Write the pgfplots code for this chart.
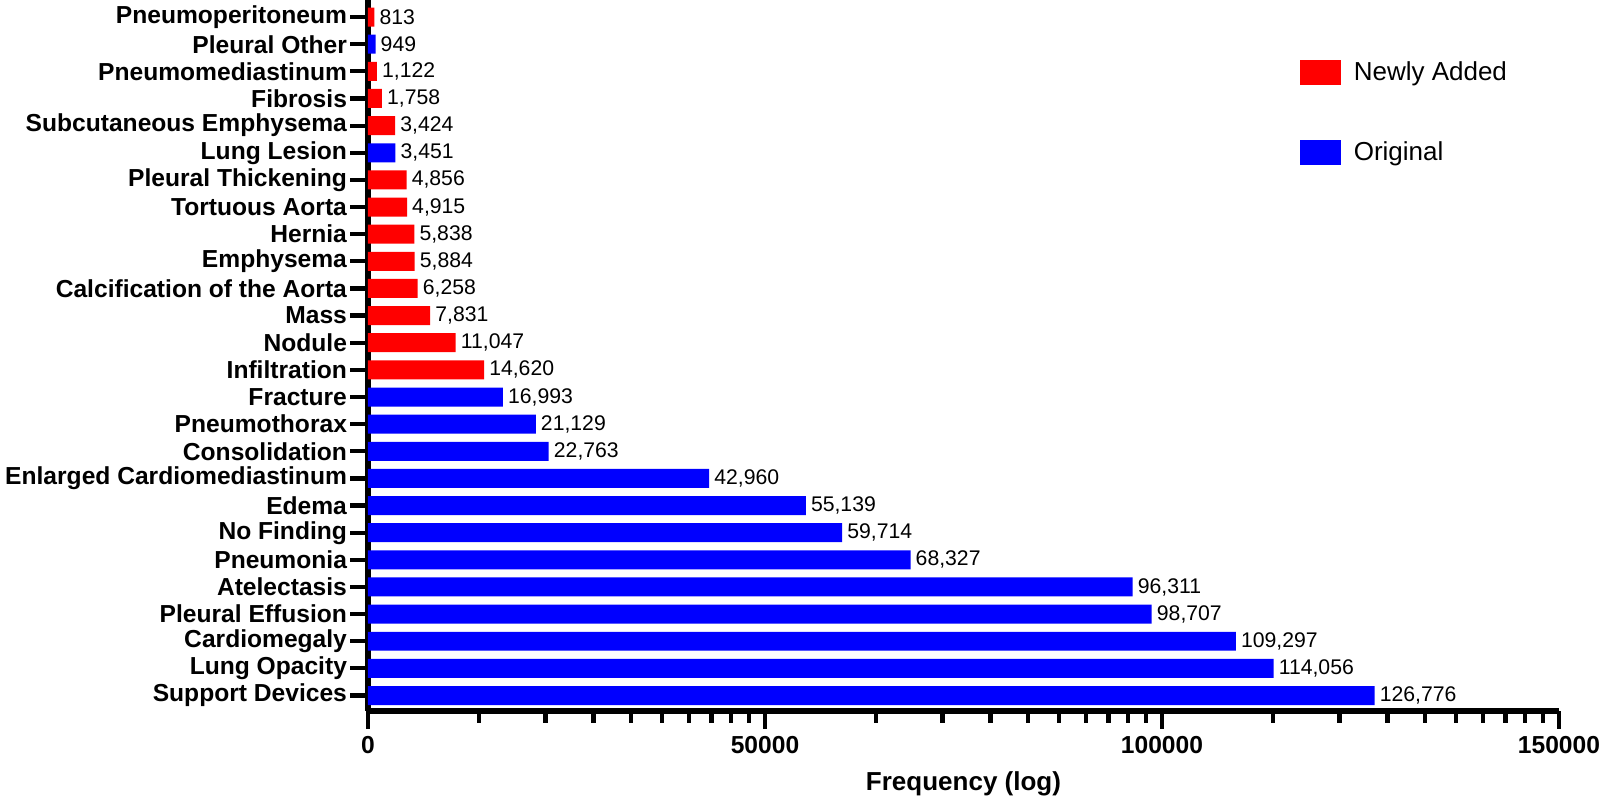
\documentclass[border=0pt]{standalone}
\usepackage{fontspec}
\setmainfont{Liberation Sans}
\usepackage{pgfplots}
\pgfplotsset{compat=1.18}

\definecolor{newred}{RGB}{255,0,0}
\definecolor{origblue}{RGB}{0,0,255}

% y position, count (bottom to top)
\pgfplotstableread{
y x
12 14620
13 11047
14 7831
15 6258
16 5884
17 5838
18 4915
19 4856
21 3424
22 1758
23 1122
25 813
}\newadded
\pgfplotstableread{
y x
0 126776
1 114056
2 109297
3 98707
4 96311
5 68327
6 59714
7 55139
8 42960
9 22763
10 21129
11 16993
20 3451
24 949
}\original

\begin{document}
\begin{tikzpicture}
\begin{axis}[
  scale only axis,
  width=595.5pt, height=355.5pt,
  xbar, bar width=0.7,
  clip=false,
  xmin=0, xmax=150000,
  ymin=-0.57, ymax=25.63,
  axis x line=bottom, axis y line=left,
  axis line style={-, line width=2.6pt},
  tick align=outside,
  major tick length=9pt, minor tick length=6pt,
  every tick/.append style={black, line width=2.1pt},
  xtick={0,50000,100000,150000},
  xticklabels={0,50000,100000,150000},
  minor xtick={13950,22350,28400,33150,37050,40400,43250,45750,48000,
    63950,72350,78400,83150,87050,90400,93250,95750,98000,
    113950,122350,128400,133150,137050,140400,143250,145750,148000},
  scaled x ticks=false,
  xticklabel style={font=\fontsize{12.3}{14}\selectfont\bfseries},
  ytick={0,...,25},
  yticklabels={Support Devices, Lung Opacity, Cardiomegaly, Pleural Effusion,
    Atelectasis, Pneumonia, No Finding, Edema, Enlarged Cardiomediastinum,
    Consolidation, Pneumothorax, Fracture, Infiltration, Nodule, Mass,
    Calcification of the Aorta, Emphysema, Hernia, Tortuous Aorta,
    Pleural Thickening, Lung Lesion, Subcutaneous Emphysema, Fibrosis,
    Pneumomediastinum, Pleural Other, Pneumoperitoneum},
  yticklabel style={font=\fontsize{12.3}{14}\selectfont\bfseries, xshift=2pt},
  xlabel={Frequency (log)},
  xlabel style={font=\fontsize{13}{15}\selectfont\bfseries, yshift=-2pt},
  nodes near coords={\pgfmathprintnumber[fixed, precision=0, 1000 sep={,}, assume math mode=true]{\pgfplotspointmeta}},
  nodes near coords style={font=\fontsize{10.6}{12}\selectfont, black, anchor=west, inner sep=2.4pt},
  legend image code/.code={\fill[#1] (0pt,-6.25pt) rectangle (20.5pt,6.25pt);},
  legend style={draw=none, fill=none, at={(0.777,0.925)}, anchor=north west,
    legend cell align=left, font=\fontsize{13}{15}\selectfont, row sep=25pt,
    /tikz/every odd column/.append style={column sep=4.5pt}},
]
\addplot[fill=newred, draw=none, bar shift=0pt] table[x=x, y=y] {\newadded};
\addlegendentry{Newly Added}
\addplot[fill=origblue, draw=none, bar shift=0pt] table[x=x, y=y] {\original};
\addlegendentry{Original}
\coordinate (bl) at (rel axis cs:0,0);
\coordinate (tr) at (rel axis cs:1,1);
\end{axis}
\pgfresetboundingbox
\path[use as bounding box] ([xshift=-184pt,yshift=-42.5pt]bl) rectangle ([xshift=20.5pt]tr);
\end{tikzpicture}
\end{document}
